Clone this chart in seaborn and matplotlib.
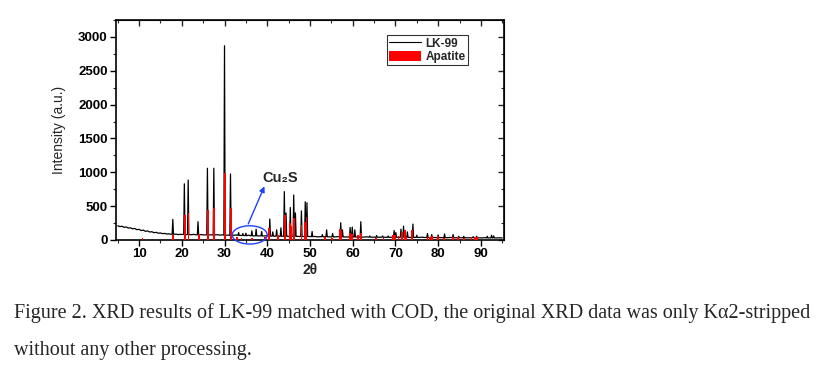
import numpy as np
import pandas as pd
import matplotlib
matplotlib.use("Agg")
import matplotlib.pyplot as plt
from matplotlib.lines import Line2D
from matplotlib.patches import Patch, Ellipse
import seaborn as sns

# ---------------- data ----------------
# noisy background of the LK-99 pattern
base_x = [5, 5.5, 6, 6.5, 7, 7.5, 8, 8.5, 9, 9.5, 10, 10.5, 11, 11.5, 12, 12.5,
          13, 13.5, 14, 14.5, 15, 15.5, 16, 16.5, 17, 17.5, 18.6, 19.2, 19.8,
          22.3, 22.8, 23.3, 24.6, 25.2, 28.3, 28.9, 29.5, 32.2, 32.8, 34.6,
          35.6, 39.2, 39.8, 42.7, 47.2, 51.3, 51.8, 52.4, 56, 56.6, 58.5, 62.6,
          63.2, 63.8, 66.3, 66.8, 68.9, 73.3, 75.6, 76.2, 76.8, 79.2, 82.3,
          82.8, 85.4, 87.2, 90.3, 90.9, 93.6, 94.3, 95]
base_y = [210, 198, 203, 188, 192, 176, 180, 165, 170, 152, 158, 140, 146, 128,
          134, 118, 122, 108, 113, 100, 104, 94, 97, 88, 91, 84, 86, 80, 84,
          78, 84, 76, 80, 74, 78, 72, 76, 70, 74, 66, 70, 59, 64, 56, 53, 52,
          46, 50, 46, 50, 45, 43, 47, 42, 41, 45, 40, 39, 38, 42, 37, 35, 34,
          38, 33, 32, 31, 35, 30, 33, 30]

# LK-99 peaks: position (2theta), apex intensity, local background
lk_peak_x = [17.9, 20.6, 21.5, 23.8, 26.0, 27.5, 30.0, 31.4, 33.3, 34.3, 35.0,
             36.4, 37.4, 38.7, 40.6, 41.3, 42.2, 43.2, 44.0, 44.4, 45.4, 46.2,
             46.6, 48.0, 48.9, 49.3, 50.5, 52.9, 53.9, 55.3, 57.2, 57.6, 59.4,
             59.9, 60.5, 61.9, 64.0, 65.6, 67.0, 68.3, 69.7, 70.1, 71.3, 71.9,
             72.8, 74.1, 75.0, 77.5, 78.5, 80.0, 81.5, 83.5, 84.8, 86.0, 88.2,
             89.0, 91.5, 92.5, 93.0]
lk_peak_y = [305, 830, 885, 270, 1060, 1060, 2870, 975, 110, 95, 100,
             135, 160, 125, 310, 120, 150, 180, 715, 400, 480, 665,
             400, 430, 565, 550, 125, 80, 150, 95, 255, 150, 185,
             190, 150, 270, 60, 65, 60, 60, 140, 110, 160, 205,
             120, 235, 70, 95, 80, 75, 90, 80, 55, 55, 50,
             55, 55, 70, 60]
lk_peak_foot = [85, 80, 80, 77, 76, 75, 72, 71, 68, 66, 64,
                62, 61, 60, 58, 57, 56, 55, 55, 55, 54, 54,
                54, 52, 52, 52, 50, 48, 47, 46, 45, 45, 44,
                44, 44, 43, 42, 41, 41, 40, 40, 40, 40, 39,
                39, 38, 38, 36, 36, 35, 34, 33, 33, 33, 32,
                32, 31, 31, 31]

# Apatite reference sticks (COD)
ap_x = [10.8, 18.0, 20.7, 21.6, 24.0, 26.1, 27.6, 30.1, 31.6, 33.0, 34.0, 36.5,
        39.5, 40.4, 42.5, 44.1, 45.4, 45.7, 46.2, 48.0, 48.8, 49.2, 53.5, 55.1,
        57.0, 57.3, 59.4, 59.8, 61.2, 61.9, 65.5, 67.2, 69.5, 69.9, 70.7, 71.6,
        72.2, 72.6, 73.9, 77.5, 78.1, 78.5, 80.0, 81.4, 83.5, 84.7, 86.0, 87.8,
        88.6, 89.1]
ap_y = [25, 75, 370, 405, 90, 445, 470, 995, 480, 40, 30, 25,
        40, 170, 75, 370, 245, 200, 320, 225, 270, 345, 40, 35,
        160, 130, 110, 95, 70, 100, 30, 30, 70, 80, 60, 120,
        150, 50, 150, 50, 45, 55, 55, 35, 50, 40, 30, 45,
        45, 40]

x_ticks = [10, 20, 30, 40, 50, 60, 70, 80, 90]
y_ticks = [0, 500, 1000, 1500, 2000, 2500, 3000]

# ---------------- assemble the line from the read values ----------------
half = 0.15
pts = []
for px, py, pf in zip(lk_peak_x, lk_peak_y, lk_peak_foot):
    pts += [(px - half, pf), (px, py), (px + half, pf)]
for bx, by in zip(base_x, base_y):
    if all(abs(bx - p) > 0.3 for p in lk_peak_x):
        pts.append((bx, by))
pts.sort()
df = pd.DataFrame(pts, columns=["two_theta", "intensity"])

# ---------------- figure ----------------
sns.set_style("ticks")
plt.rcParams["font.family"] = ["Liberation Sans", "DejaVu Sans"]

fig = plt.figure(figsize=(8.32, 3.74), dpi=100)
ax = fig.add_axes([0.1394, 0.3583, 0.4663, 0.5882])

sns.lineplot(data=df, x="two_theta", y="intensity", ax=ax, color="black",
             linewidth=0.9, sort=False, zorder=2)
ax.bar(ap_x, ap_y, width=0.4, color="#ff0000", zorder=3, linewidth=0)

ax.set_xlim(4.6, 95.4)
ax.set_ylim(0, 3250)
ax.set_xticks(x_ticks)
ax.set_yticks(y_ticks)
ax.set_xticks(np.arange(5, 96, 5), minor=True)
ax.set_yticks(np.arange(0, 3251, 250), minor=True)
for lab in ax.get_xticklabels() + ax.get_yticklabels():
    lab.set_fontweight("bold")
    lab.set_fontsize(9.5)
ax.tick_params(axis="both", which="major", direction="out", length=4,
               width=1.0, pad=2, colors="black")
ax.tick_params(axis="both", which="minor", direction="out", length=2,
               width=0.8)
for sp in ax.spines.values():
    sp.set_visible(True)
    sp.set_linewidth(1.2)
    sp.set_color("black")

# inward ticks on the top and right frames
top = ax.secondary_xaxis("top")
top.set_xticks(x_ticks)
top.set_xticks(np.arange(5, 96, 5), minor=True)
top.tick_params(which="major", direction="in", length=4, width=1.0, labeltop=False)
top.tick_params(which="minor", direction="in", length=2, width=0.8)
right = ax.secondary_yaxis("right")
right.set_yticks(y_ticks)
right.set_yticks(np.arange(0, 3251, 250), minor=True)
right.tick_params(which="major", direction="in", length=4, width=1.0, labelright=False)
right.tick_params(which="minor", direction="in", length=2, width=0.8)

ax.set_xlabel("2θ", fontsize=10, fontweight="bold", labelpad=2)
ax.set_ylabel("Intensity (a.u.)", fontsize=10, labelpad=9)

# Cu2S annotation
ell = Ellipse((35.9, 75), width=8.2, height=270, fill=False, edgecolor="#1f3fff",
              linewidth=1.0, clip_on=False, zorder=4)
ax.add_patch(ell)
ax.annotate("", xy=(39.6, 830), xytext=(35.3, 200),
            arrowprops=dict(arrowstyle="-|>", color="#1f3fff", lw=1.0,
                            mutation_scale=8), zorder=4)
ax.text(38.8, 920, "Cu₂S", fontsize=10.5, fontweight="bold",
        ha="left", va="center", family=["Liberation Sans", "DejaVu Sans"])

handles = [Line2D([0], [0], color="black", lw=0.8),
           Patch(facecolor="#ff0000", edgecolor="none")]
leg = ax.legend(handles, ["LK-99", "Apatite"], loc="upper left",
                bbox_to_anchor=(0.698, 0.93), frameon=True, fancybox=False,
                edgecolor="black", prop={"weight": "bold", "size": 8.5},
                handlelength=2.7, handleheight=1.0, borderpad=0.2,
                labelspacing=0.05, handletextpad=0.4, borderaxespad=0)
leg.get_frame().set_linewidth(0.8)

# caption
cap_font = ["Liberation Serif", "DejaVu Serif"]
fig.text(0.017, 1 - 313 / 374,
         "Figure 2. XRD results of LK-99 matched with COD, the original XRD data was only Kα2-stripped",
         fontsize=14.5, family=cap_font, va="center", ha="left")
fig.text(0.017, 1 - 350 / 374, "without any other processing.",
         fontsize=14.5, family=cap_font, va="center", ha="left")

fig.savefig("out.png", dpi=100)
